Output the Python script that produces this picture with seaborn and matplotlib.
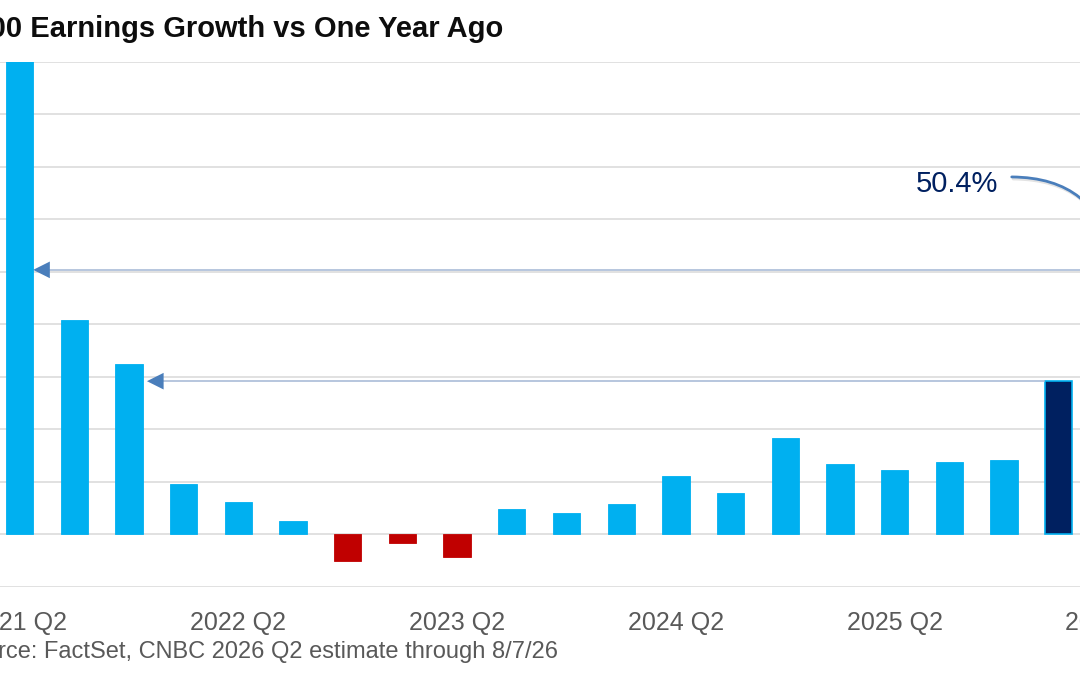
import matplotlib
matplotlib.use("Agg")
import matplotlib.pyplot as plt
import matplotlib.patheffects as pe
import pandas as pd
import seaborn as sns

# Data (percent growth vs one year ago)
quarters = ['2021 Q2', '2021 Q3', '2021 Q4',
            '2022 Q1', '2022 Q2', '2022 Q3', '2022 Q4',
            '2023 Q1', '2023 Q2', '2023 Q3', '2023 Q4',
            '2024 Q1', '2024 Q2', '2024 Q3', '2024 Q4',
            '2025 Q1', '2025 Q2', '2025 Q3', '2025 Q4',
            '2026 Q1', '2026 Q2']
growth = [91.0, 40.9, 32.5,
          9.6, 6.1, 2.6, -5.1,
          -1.7, -4.3, 4.9, 4.1,
          5.8, 11.2, 7.9, 18.4,
          13.4, 12.2, 13.9, 14.2,
          29.2, 50.4]
tick_labels = ['2021 Q2', '2022 Q2', '2023 Q2', '2024 Q2', '2025 Q2', '2026 Q2']
latest = '2026 Q1'
estimate = '2026 Q2'

df = pd.DataFrame({'quarter': quarters, 'growth': growth})


def group(row):
    if row.quarter in (latest, estimate):
        return 'latest'
    return 'pos' if row.growth >= 0 else 'neg'


df['group'] = df.apply(group, axis=1)
palette = {'pos': '#00B0F0', 'neg': '#C00000', 'latest': '#002060'}

sns.set_theme(style='white')
plt.rcParams['font.family'] = ['Liberation Sans', 'DejaVu Sans']

fig = plt.figure(figsize=(10.8, 6.75), dpi=100)
# plot area is wider than the picture: the original is cropped on both sides
ax = fig.add_axes([-0.00727, 0.1304, 1.0636, 0.7778])

sns.barplot(data=df, x='quarter', y='growth', hue='group', palette=palette,
            order=quarters, dodge=False, width=0.5, legend=False,
            saturation=1, ax=ax, zorder=3)

idx_latest = quarters.index(latest)
for p in ax.patches:
    cx = p.get_x() + p.get_width() / 2
    if abs(cx - idx_latest) < 0.3:
        p.set_edgecolor('#00B0F0')
        p.set_linewidth(1.2)
    else:
        p.set_edgecolor(p.get_facecolor())
        p.set_linewidth(0.6)

ax.set_xlim(-0.5, len(quarters) - 0.5)
ax.set_ylim(-10, 90)
ax.set_yticks(range(-10, 91, 10))
ax.yaxis.grid(True, color='#D9D9D9', lw=1.1)
ax.set_axisbelow(True)
sns.despine(ax=ax, left=True, bottom=True)

ax.set_xticks([quarters.index(t) for t in tick_labels], tick_labels)
ax.tick_params(axis='x', length=0, pad=17, labelsize=18, labelcolor='#595959')
ax.tick_params(axis='y', length=0, labelleft=False)
ax.set_xlabel('')
ax.set_ylabel('')

# "highest since" arrows: light shaft, darker head
arrow_c = '#4A7EBB'
shaft_c = '#A3B6D4'
for y, tip, tail in [(growth[-1], 0.25, len(quarters) - 1.25),
                     (growth[idx_latest], 2.33, idx_latest - 0.25)]:
    ax.plot([tip + 0.2, tail], [y, y], color=shaft_c, lw=1.1, zorder=4,
            solid_capstyle='butt')
    ax.annotate('', xy=(tip, y), xytext=(tip + 0.33, y),
                arrowprops=dict(arrowstyle='-|>,head_length=1.2,head_width=0.6',
                                color=arrow_c, lw=0, shrinkA=0, shrinkB=0,
                                mutation_scale=10), zorder=5)

ax.text(17.14, 66.8, '50.4%', ha='center', va='center', fontsize=21,
        color='#002060', zorder=6)
ax.annotate('', xy=(len(quarters) - 1, 52.0), xytext=(18.14, 68.1),
            arrowprops=dict(arrowstyle='-|>', color=arrow_c, lw=2.0,
                            connectionstyle='arc3,rad=-0.41',
                            shrinkA=0, shrinkB=0,
                            path_effects=[pe.SimpleLineShadow(offset=(1, -1.5), alpha=0.12),
                                          pe.Normal()]),
            annotation_clip=False, zorder=6)

fig.text(503 / 1080, 1 - 36.7 / 675, 'S&P 500 Earnings Growth vs One Year Ago',
         ha='right', va='baseline', fontsize=21, fontweight='bold', color='#0D0D0D')
fig.text(558 / 1080, 1 - 658.3 / 675,
         'Source: FactSet, CNBC 2026 Q2 estimate through 8/7/26',
         ha='right', va='baseline', fontsize=17, color='#595959')

fig.savefig('out.png', dpi=100)
